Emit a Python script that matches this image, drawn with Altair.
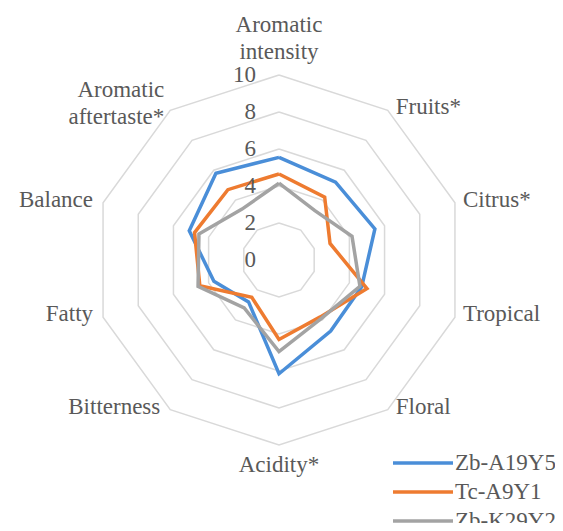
import math
import altair as alt
import pandas as pd

# ---------------- data ----------------
categories = ["Aromatic intensity", "Fruits*", "Citrus*", "Tropical", "Floral",
              "Acidity*", "Bitterness", "Fatty", "Balance", "Aromatic aftertaste*"]
series_names = ["Zb-A19Y5", "Tc-A9Y1", "Zb-K29Y2"]
zb_a19y5 = [5.55, 5.2, 5.45, 4.7, 4.75, 6.15, 2.8, 3.7, 5.1, 5.8]
tc_a9y1 = [4.65, 4.2, 2.9, 5.0, 3.8, 4.3, 2.5, 4.5, 4.8, 4.7]
zb_k29y2 = [4.15, 3.3, 4.15, 4.6, 3.9, 4.95, 3.2, 4.6, 4.55, 3.4]
grid_levels = [2, 4, 6, 8, 10]
tick_values = [0, 2, 4, 6, 8, 10]
tick_labels = ["0", "2", "4", "6", "8", "10"]
series_colors = ["#4A8ED8", "#EE7B30", "#A3A3A3"]

# ---------------- layout constants ----------------
N = len(categories)
PX = 18.5            # pixels per score unit
CX, CY = 279, 260    # centre of the radar on the page
W, H = 547, 515
XMIN = -(CX - 8) / PX
XMAX = XMIN + W / PX
YMAX = (CY - 8) / PX
YMIN = YMAX - H / PX
FONT = "Liberation Serif"
TXT = "#595959"
FS = 23

xs = alt.Scale(domain=[XMIN, XMAX], nice=False, zero=False)
ys = alt.Scale(domain=[YMIN, YMAX], nice=False, zero=False)
cscale = alt.Scale(domain=series_names, range=series_colors)

# ---------------- tables ----------------
all_vals = [zb_a19y5, tc_a9y1, zb_k29y2]
pts = pd.DataFrame([
    {"series": s, "sidx": k, "idx": i, "category": categories[i % N], "value": vals[i % N]}
    for k, (s, vals) in enumerate(zip(series_names, all_vals))
    for i in range(N + 1)
])
grid = pd.DataFrame([{"level": lv, "idx": i} for lv in grid_levels for i in range(N + 1)])
labels = pd.DataFrame([
    {"idx": i, "label": (c.replace(" ", "\n", 1) if c.startswith("Aromatic") else c)}
    for i, c in enumerate(categories)
])
ticks = pd.DataFrame({"value": tick_values, "label": tick_labels})
legend_df = pd.DataFrame({"series": series_names, "row": list(range(len(series_names)))})

ang = f"datum.idx * 2 * PI / {N}"

def polar(base, rfield):
    return base.transform_calculate(
        ang=ang
    ).transform_calculate(
        px=f"datum.{rfield} * sin(datum.ang)",
        py=f"datum.{rfield} * cos(datum.ang)",
    )

# grid rings
grid_layer = polar(alt.Chart(grid), "level").mark_line(
    color="#D9D9D9", strokeWidth=1.5
).encode(
    x=alt.X("px:Q", scale=xs, axis=None),
    y=alt.Y("py:Q", scale=ys, axis=None),
    detail="level:N",
    order="idx:Q",
)

# series lines
lines = polar(alt.Chart(pts), "value").mark_line(
    strokeWidth=3.5, strokeJoin="miter"
).encode(
    x=alt.X("px:Q", scale=xs, axis=None),
    y=alt.Y("py:Q", scale=ys, axis=None),
    color=alt.Color("series:N", scale=cscale, legend=None),
    detail="series:N",
    order="idx:Q",
)

# tick labels along the top axis
tick_layer = alt.Chart(ticks).mark_text(
    font=FONT, fontSize=FS, color=TXT, align="right", baseline="middle", dx=-23
).encode(
    x=alt.X("px:Q", scale=xs, axis=None),
    y=alt.Y("value:Q", scale=ys, axis=None),
    text="label:N",
).transform_calculate(px="0")

# category labels
lab_base = alt.Chart(labels).transform_calculate(
    ang=ang
).transform_calculate(
    px="10 * sin(datum.ang)",
    py="10 * cos(datum.ang)",
    s="sin(datum.ang)",
    c="cos(datum.ang)",
    two="indexof(datum.label, '\\n') >= 0 ? 1 : 0",
)
enc = dict(
    x=alt.X("px:Q", scale=xs, axis=None),
    y=alt.Y("py:Q", scale=ys, axis=None),
    text="label:N",
)
tstyle = dict(font=FONT, fontSize=FS, color=TXT, lineBreak="\n", lineHeight=27)
lab_right = lab_base.transform_filter("datum.s > 0.1").mark_text(
    align="left", baseline="middle", dx=8, dy=-3, **tstyle).encode(**enc)
lab_left1 = lab_base.transform_filter("datum.s < -0.1 && datum.two == 0").mark_text(
    align="right", baseline="middle", dx=-10, dy=-3, **tstyle).encode(**enc)
lab_left2 = lab_base.transform_filter("datum.s < -0.1 && datum.two == 1").mark_text(
    align="right", baseline="middle", dx=-6, dy=-20, **tstyle).encode(**enc)
lab_top = lab_base.transform_filter("datum.c > 0.9").mark_text(
    align="center", baseline="middle", dy=-50, **tstyle).encode(**enc)
lab_bot = lab_base.transform_filter("datum.c < -0.9").mark_text(
    align="center", baseline="top", dy=9, **tstyle).encode(**enc)

# legend (drawn in chart units)
LX0 = (393 - CX) / PX
LX1 = (453 - CX) / PX
LY0 = (CY - 463) / PX
LDY = 29 / PX
leg_base = alt.Chart(legend_df).transform_calculate(
    lx0=f"{LX0}", lx1=f"{LX1}", ly=f"{LY0} - datum.row * {LDY}"
)
leg_lines = leg_base.mark_rule(strokeWidth=3.5).encode(
    x=alt.X("lx0:Q", scale=xs, axis=None),
    x2="lx1:Q",
    y=alt.Y("ly:Q", scale=ys, axis=None),
    color=alt.Color("series:N", scale=cscale, legend=None),
)
leg_text = leg_base.mark_text(
    font=FONT, fontSize=FS, color=TXT, align="left", baseline="middle", dx=2
).encode(
    x=alt.X("lx1:Q", scale=xs, axis=None),
    y=alt.Y("ly:Q", scale=ys, axis=None),
    text="series:N",
)

chart = alt.layer(
    grid_layer, lines, tick_layer, lab_right, lab_left1, lab_left2, lab_top, lab_bot,
    leg_lines, leg_text
).properties(
    width=W, height=H,
    autosize=alt.AutoSizeParams(type="none"),
    padding=0,
    background="white",
).configure_view(stroke=None)

chart.save("out.html", embed_options={"renderer": "svg", "actions": False})
